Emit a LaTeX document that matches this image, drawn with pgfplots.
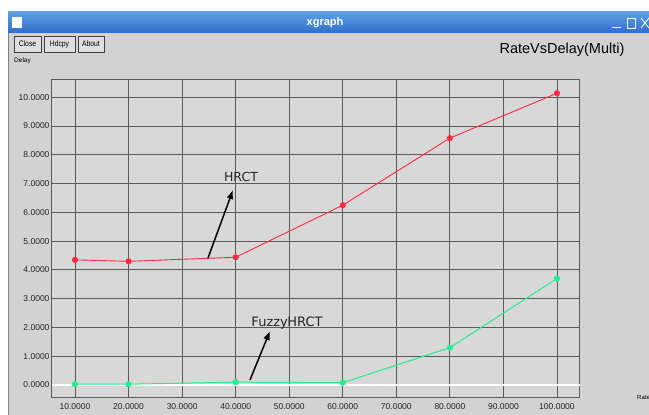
\documentclass[border=0pt]{standalone}
\usepackage{pgfplots}
\pgfplotsset{compat=1.18}
\usepackage{fontspec}
\setmainfont{Liberation Sans}
\newfontfamily\dejavu{DejaVu Sans}
\usetikzlibrary{arrows.meta}
\definecolor{winbg}{RGB}{210,210,210}
\definecolor{plotbg}{RGB}{216,216,216}
\definecolor{gridgray}{RGB}{90,90,90}
\definecolor{titletop}{RGB}{95,160,230}
\definecolor{titlebot}{RGB}{45,110,200}
\definecolor{hrct}{RGB}{255,40,70}
\definecolor{fuzzy}{RGB}{40,235,150}
\begin{document}
\begin{tikzpicture}[x=1pt,y=1pt]
\useasboundingbox (0,0) rectangle (649,415);
\fill[white] (0,0) rectangle (649,415);
\fill[winbg] (8,0) rectangle (649,403);
\draw[gray, line width=0.8pt] (8.5,0) -- (8.5,403);
\shade[top color=titletop, bottom color=titlebot] (8,382) rectangle (649,403);
\fill[white] (12,387) rectangle (22,398);
\node[white, font=\bfseries\fontsize{11}{12}\selectfont] at (325,392.5) {xgraph};
\draw[white, line width=0.8pt] (612,388) -- (621,388);
\draw[white, line width=0.8pt] (627,387) rectangle (635,397);
\draw[white, line width=0.8pt] (641,387) -- (649,397) (641,397) -- (649,387);
% buttons
\foreach \a/\b/\t in {14/41/Close, 44/75/Hdcpy, 78/104/About}{
  \draw[draw=black!75, fill=winbg!70!white, line width=0.7pt] (\a,363) rectangle (\b,379);
  \node[font=\fontsize{8}{9}\selectfont, inner sep=0pt, xscale=0.85] at ({(\a+\b)/2},371) {\t};
}
\node[anchor=west, font=\fontsize{6.5}{7}\selectfont, inner sep=0pt] at (14,354) {Delay};
\node[font=\fontsize{14.5}{16}\selectfont, inner sep=0pt] at (562,365) {RateVsDelay(Multi)};
\begin{axis}[
  at={(52pt,17pt)}, anchor=south west,
  width=528pt, height=318pt, scale only axis,
  xmin=5.7, xmax=104.3, ymin=-0.45, ymax=10.6,
  xtick={10,20,...,100}, ytick={0,1,...,10},
  grid=major,
  major grid style={draw=gridgray, line width=0.9pt},
  axis line style={draw=gridgray, line width=1pt},
  axis background/.style={fill=plotbg},
  major tick length=0pt,
  tick label style={font=\fontsize{8.5}{9}\selectfont, text=black!85},
  xticklabel style={yshift=-2.5pt},
  yticklabel style={xshift=1pt},
  /pgf/number format/fixed,
  /pgf/number format/fixed zerofill,
  /pgf/number format/precision=4,
  /pgf/number format/1000 sep={},
  /pgf/number format/assume math mode=true,
]
\draw[white, line width=1.3pt] (axis cs:5.7,0) -- (axis cs:104.3,0);
\addplot[hrct, line width=0.9pt, mark=*, mark size=2.6pt] coordinates {
 (10,4.35) (20,4.30) (40,4.44) (60,6.25) (80,8.58) (100,10.14)};
\addplot[fuzzy, line width=1pt, mark=*, mark size=2.6pt] coordinates {
 (10,0.03) (20,0.03) (40,0.10) (60,0.08) (80,1.30) (100,3.70)};
\end{axis}
\draw[-{Latex[length=9pt,width=7pt]}, line width=1.5pt] (208,157) -- (233,225);
\draw[-{Latex[length=9pt,width=7pt]}, line width=1.5pt] (250,35) -- (270,84);
\node[font=\dejavu\fontsize{12.5}{14}\selectfont, text=black!85] at (241,238) {HRCT};
\node[font=\dejavu\fontsize{13}{14}\selectfont, text=black!85] at (287,92) {Fuzzy\kern-0.5ptHRCT};
\node[anchor=west, font=\fontsize{6}{7}\selectfont, inner sep=0pt] at (637,18) {Rate};
\end{tikzpicture}
\end{document}
